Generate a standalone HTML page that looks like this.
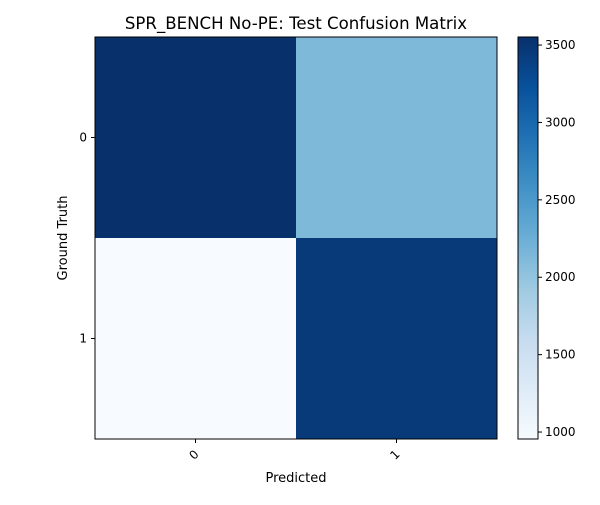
<!DOCTYPE html>
<html><head><meta charset="utf-8"><style>
body{margin:0;background:#fff;font-family:"Liberation Sans","DejaVu Sans",sans-serif;}
svg text{font-family:"DejaVu Sans","Liberation Sans",sans-serif;}
</style></head><body>
<svg id="chart" width="600" height="500" viewBox="0 0 600 500" xmlns="http://www.w3.org/2000/svg">
<rect width="600" height="500" fill="#fff"/>
<defs><linearGradient id="cbg" x1="0" y1="1" x2="0" y2="0"></linearGradient></defs>
<text x="296" y="29" font-size="16.6" text-anchor="middle" fill="#000">SPR_BENCH No-PE: Test Confusion Matrix</text>
<g id="cells"></g>
<g id="axes"></g>
<text x="296" y="482" font-size="13" text-anchor="middle">Predicted</text>
<text transform="translate(67,238) rotate(-90)" font-size="13" text-anchor="middle">Ground Truth</text>
</svg>
<script>
const categories = ["0","1"];
const matrix = [[3552, 2125],[955, 3450]];
const cbTicks = [1000,1500,2000,2500,3000,3500];
const vmin = 955, vmax = 3552;
const blues = ["#f7fbff","#deebf7","#c6dbef","#9ecae1","#6baed6","#4292c6","#2171b5","#08519c","#08306b"];
function hex(h){return [1,3,5].map(i=>parseInt(h.substr(i,2),16));}
function cmap(t){t=Math.max(0,Math.min(1,t));const p=t*8,i=Math.min(7,Math.floor(p)),f=p-i;const a=hex(blues[i]),b=hex(blues[i+1]);return "rgb("+a.map((v,k)=>Math.round(v+(b[k]-v)*f)).join(",")+")";}
const NS="http://www.w3.org/2000/svg";
const L=95,T=37,W=402,H=402,cw=W/categories.length,ch=H/categories.length;
const cells=document.getElementById('cells'),axes=document.getElementById('axes');
function mk(tag,attrs,parent){const e=document.createElementNS(NS,tag);for(const k in attrs)e.setAttribute(k,attrs[k]);parent.appendChild(e);return e;}
matrix.forEach((row,r)=>row.forEach((v,c)=>{
 const e=mk('rect',{x:L+c*cw,y:T+r*ch,width:cw+0.5,height:ch+0.5,fill:cmap((v-vmin)/(vmax-vmin))},cells);
 
 
}));
const fr=mk('rect',{x:L,y:T,width:W,height:H,fill:'none',stroke:'#000','stroke-width':1},axes);


categories.forEach((cat,i)=>{
 const x=L+(i+0.5)*cw, y=T+(i+0.5)*ch;
 mk('line',{x1:x,y1:T+H,x2:x,y2:T+H+4,stroke:'#000'},axes);
 const xt=mk('text',{transform:'translate('+(x+4)+','+(T+H+16)+') rotate(-45)','font-size':12,'text-anchor':'end'},axes);
 xt.textContent=cat;
 
 
 mk('line',{x1:L-4,y1:y,x2:L,y2:y,stroke:'#000'},axes);
 const yt=mk('text',{x:L-8,y:y+4,'font-size':12,'text-anchor':'end'},axes);
 yt.textContent=cat;
 
 
});
const g=document.getElementById('cbg');
blues.forEach((c,i)=>mk('stop',{offset:(i/8*100)+'%','stop-color':c},g));
const CX=518,CW=20;
const cb=mk('rect',{x:CX,y:T,width:CW,height:H,fill:'url(#cbg)',stroke:'#000','stroke-width':1},axes);


cbTicks.forEach(v=>{
 const y=T+H-(v-vmin)/(vmax-vmin)*H;
 mk('line',{x1:CX+CW,y1:y,x2:CX+CW+4,y2:y,stroke:'#000'},axes);
 const t=mk('text',{x:CX+CW+7,y:y+4,'font-size':12},axes);
 t.textContent=v;
 
 
});
</script>
</body></html>
